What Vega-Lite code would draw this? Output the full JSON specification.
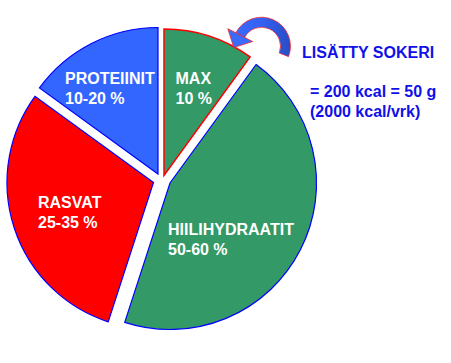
{
  "$schema": "https://vega.github.io/schema/vega-lite/v6.json",
  "width": 451,
  "height": 363,
  "padding": 0,
  "autosize": {"type": "none"},
  "background": "white",
  "config": {"view": {"stroke": null}},
  "layer": [
    {
      "data": {
        "values": [
          {"ravintoaine": "MAX", "osuus": 10, "nimi": "MAX\n10 %"},
          {"ravintoaine": "HIILIHYDRAATIT", "osuus": 45, "nimi": "HIILIHYDRAATIT\n50-60 %"},
          {"ravintoaine": "RASVAT", "osuus": 30, "nimi": "RASVAT\n25-35 %"},
          {"ravintoaine": "PROTEIINIT", "osuus": 15, "nimi": "PROTEIINIT\n10-20 %"}
        ]
      },
      "transform": [{"stack": "osuus", "groupby": [], "as": ["alku", "loppu"]}],
      "layer": [
        {
          "transform": [{"filter": "datum.ravintoaine === 'MAX'"}],
          "layer": [
            {
              "mark": {"type": "arc", "x": 164, "y": 175.5, "outerRadius": 146.5, "fill": "#339966", "stroke": "#FF0000", "strokeWidth": 1.5},
              "encoding": {
                "theta": {"field": "alku", "type": "quantitative", "scale": {"domain": [0, 100]}},
                "theta2": {"field": "loppu"}
              }
            },
            {
              "mark": {"type": "text", "x": 175.5, "y": 84.3, "align": "left", "baseline": "alphabetic", "font": "Liberation Sans", "fontSize": 16, "fontWeight": "bold", "fill": "white", "lineBreak": "\n", "lineHeight": 19.5},
              "encoding": {"text": {"field": "nimi"}}
            }
          ]
        },
        {
          "transform": [{"filter": "datum.ravintoaine === 'HIILIHYDRAATIT'"}],
          "layer": [
            {
              "mark": {"type": "arc", "x": 170, "y": 183, "outerRadius": 146.5, "fill": "#339966", "stroke": "#0000FF", "strokeWidth": 1.2},
              "encoding": {
                "theta": {"field": "alku", "type": "quantitative", "scale": {"domain": [0, 100]}},
                "theta2": {"field": "loppu"}
              }
            },
            {
              "mark": {"type": "text", "x": 168, "y": 235, "align": "left", "baseline": "alphabetic", "font": "Liberation Sans", "fontSize": 16, "fontWeight": "bold", "fill": "white", "lineBreak": "\n", "lineHeight": 19.5},
              "encoding": {"text": {"field": "nimi"}}
            }
          ]
        },
        {
          "transform": [{"filter": "datum.ravintoaine === 'RASVAT'"}],
          "layer": [
            {
              "mark": {"type": "arc", "x": 153.5, "y": 182.5, "outerRadius": 146.5, "fill": "#FF0000", "stroke": "#0000FF", "strokeWidth": 1.2},
              "encoding": {
                "theta": {"field": "alku", "type": "quantitative", "scale": {"domain": [0, 100]}},
                "theta2": {"field": "loppu"}
              }
            },
            {
              "mark": {"type": "text", "x": 38, "y": 208.3, "align": "left", "baseline": "alphabetic", "font": "Liberation Sans", "fontSize": 16, "fontWeight": "bold", "fill": "white", "lineBreak": "\n", "lineHeight": 19.5},
              "encoding": {"text": {"field": "nimi"}}
            }
          ]
        },
        {
          "transform": [{"filter": "datum.ravintoaine === 'PROTEIINIT'"}],
          "layer": [
            {
              "mark": {"type": "arc", "x": 158, "y": 174, "outerRadius": 146.5, "fill": "#3366FF", "stroke": "#0000FF", "strokeWidth": 1.2},
              "encoding": {
                "theta": {"field": "alku", "type": "quantitative", "scale": {"domain": [0, 100]}},
                "theta2": {"field": "loppu"}
              }
            },
            {
              "mark": {"type": "text", "x": 65, "y": 84.3, "align": "left", "baseline": "alphabetic", "font": "Liberation Sans", "fontSize": 16, "fontWeight": "bold", "fill": "white", "lineBreak": "\n", "lineHeight": 19.5},
              "encoding": {"text": {"field": "nimi"}}
            }
          ]
        }
      ]
    },
    {
      "data": {"values": [{"merkki": "nuoli"}]},
      "mark": {
        "type": "arc", "x": 261.5, "y": 46.2, "radius": 29, "radius2": 19, "theta": -1.09, "theta2": 1.94,
        "fill": {"gradient": "linear", "x1": 0, "y1": 0, "x2": 1, "y2": 0, "stops": [{"offset": 0, "color": "#3A6BFF"}, {"offset": 0.5, "color": "#3360F0"}, {"offset": 1, "color": "#2A4CC4"}]},
        "stroke": "#FF2020", "strokeWidth": 0.7
      },
      "encoding": {}
    },
    {
      "data": {"values": [{"merkki": "nuolenkärki"}]},
      "mark": {
        "type": "point", "x": 237, "y": 41.3, "shape": "M-1,-0.5L1,-0.5L0,0.5Z", "size": 784, "angle": 27.5,
        "filled": true, "fill": "#3A6BFF", "stroke": "#FF2020", "strokeWidth": 0.7, "opacity": 1
      },
      "encoding": {}
    },
    {
      "data": {"values": [{"teksti": "LISÄTTY SOKERI"}]},
      "mark": {"type": "text", "x": 302, "y": 58, "align": "left", "baseline": "alphabetic", "font": "Liberation Sans", "fontSize": 16, "fontWeight": "bold", "fill": "#1010E8"},
      "encoding": {"text": {"field": "teksti"}}
    },
    {
      "data": {"values": [{"teksti": "= 200 kcal = 50 g\n(2000 kcal/vrk)"}]},
      "mark": {"type": "text", "x": 310, "y": 97, "align": "left", "baseline": "alphabetic", "font": "Liberation Sans", "fontSize": 16, "fontWeight": "bold", "fill": "#1010E8", "lineBreak": "\n", "lineHeight": 19.5},
      "encoding": {"text": {"field": "teksti"}}
    }
  ]
}
